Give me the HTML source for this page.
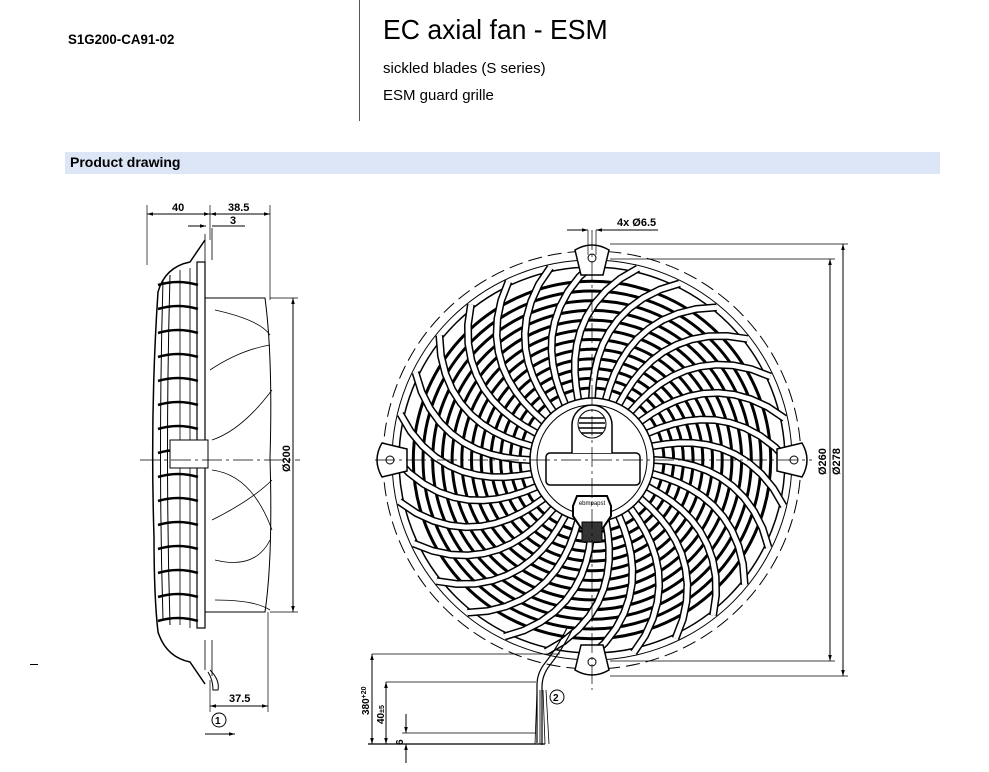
<!DOCTYPE html>
<html><head><meta charset="utf-8"><style>
body{margin:0;background:#fff;width:989px;height:772px;overflow:hidden;font-family:"Liberation Sans",Arial,sans-serif;position:relative}
.a{position:absolute;white-space:nowrap}
</style></head><body>
<div class="a" style="left:68px;top:31px;font-size:14px;font-weight:bold;transform:scaleX(0.95);transform-origin:0 0">S1G200-CA91-02</div>
<div class="a" style="left:359px;top:0;width:1px;height:121px;background:#555"></div>
<div class="a" style="left:383px;top:14px;font-size:28px;transform:scaleX(0.95);transform-origin:0 0">EC axial fan - ESM</div>
<div class="a" style="left:383px;top:60px;font-size:15px">sickled blades (S series)</div>
<div class="a" style="left:383px;top:87px;font-size:15px">ESM guard grille</div>
<div class="a" style="left:65px;top:152px;width:875px;height:22px;background:#dce6f6"></div>
<div class="a" style="left:70px;top:154px;font-size:14px;font-weight:bold">Product drawing</div>
<div class="a" style="left:30px;top:664px;width:8px;height:1px;background:#000"></div>
<svg class="a" style="left:0;top:0" width="989" height="772" id="s">
<defs><marker id="ar" viewBox="0 0 10 10" refX="10" refY="5" markerWidth="8" markerHeight="6" orient="auto-start-reverse"><path d="M0,2L10,5L0,8z" fill="#000"/></marker></defs>
<g stroke="#000" fill="none" stroke-width="1">
<circle cx="592" cy="460" r="209" stroke-dasharray="14,6"/>
<circle cx="592" cy="460" r="200"/>
<g id="rings"></g>
<g id="spokes"></g>
<circle cx="592" cy="460" r="62" fill="#fff" stroke-width="1.5"/>
<circle cx="592" cy="460" r="55"/>
<rect x="546" y="453" width="94" height="32" rx="4" fill="#fff" stroke-width="1.5"/>
<path d="M572,453 v-28 a20,20 0 0 1 40,0 v28" fill="#fff" stroke-width="1.5"/>
<circle cx="592" cy="424" r="14" fill="#fff"/>
<g stroke-width="1.5"><line x1="580" y1="418" x2="604" y2="418"/><line x1="579" y1="423" x2="605" y2="423"/><line x1="579" y1="428" x2="605" y2="428"/><line x1="581" y1="433" x2="603" y2="433"/></g>
<path d="M577,496 h30 l4,10 v10 l-8,12 h-22 l-8,-12 v-10z" fill="#fff" stroke-width="2"/>
<rect x="582" y="522" width="20" height="20" fill="#333"/>
<text x="592" y="505" font-size="6" text-anchor="middle" fill="#000" stroke="none">ebmpapst</text>
<path d="M575,250 q17,-10 34,0 l-6,25 h-22z" fill="#fff" stroke-width="1.5"/><circle cx="592" cy="258" r="4"/>
<path d="M575,670 q17,10 34,0 l-6,-25 h-22z" fill="#fff" stroke-width="1.5"/><circle cx="592" cy="662" r="4"/>
<path d="M382,443 q-10,17 0,34 l25,-6 v-22z" fill="#fff" stroke-width="1.5"/><circle cx="390" cy="460" r="4"/>
<path d="M802,443 q10,17 0,34 l-25,-6 v-22z" fill="#fff" stroke-width="1.5"/><circle cx="794" cy="460" r="4"/>
<line x1="375" y1="460" x2="812" y2="460" stroke-dasharray="20,4,3,4" stroke-width="0.7"/>
<line x1="592" y1="230" x2="592" y2="690" stroke-dasharray="20,4,3,4" stroke-width="0.7"/>
<line x1="588" y1="230" x2="588" y2="255" stroke-width="0.7"/><line x1="596" y1="230" x2="596" y2="255" stroke-width="0.7"/>
<line x1="567" y1="230" x2="588" y2="230" marker-end="url(#ar)"/><line x1="617" y1="230" x2="596" y2="230" marker-end="url(#ar)"/>
<line x1="596" y1="230" x2="658" y2="230"/>
<line x1="610" y1="244" x2="848" y2="244" stroke-width="0.7"/>
<line x1="610" y1="259" x2="835" y2="259" stroke-width="0.7"/>
<line x1="610" y1="661" x2="835" y2="661" stroke-width="0.7"/>
<line x1="610" y1="676" x2="848" y2="676" stroke-width="0.7"/>
<line x1="843" y1="244" x2="843" y2="676" marker-start="url(#ar)" marker-end="url(#ar)"/>
<line x1="830" y1="259" x2="830" y2="661" marker-start="url(#ar)" marker-end="url(#ar)"/>
<path d="M567,628 q-10,20 -22,35 q-8,10 -8,22 v58" stroke-width="1.2"/>
<path d="M572,630 q-10,20 -22,35 q-8,10 -8,22 v58" stroke-width="1.2"/>
<path d="M537,690 l-2,54 M540,690 l0,54 M543,690 l2,54 M546,690 l3,54" stroke-width="0.8"/>
<line x1="372" y1="654" x2="560" y2="654" stroke-width="0.7"/>
<line x1="386" y1="682" x2="536" y2="682" stroke-width="0.7"/>
<line x1="402" y1="733" x2="536" y2="733" stroke-width="0.7"/>
<line x1="368" y1="744" x2="545" y2="744" stroke-width="1.2"/>
<line x1="372" y1="654" x2="372" y2="744" marker-start="url(#ar)" marker-end="url(#ar)"/>
<line x1="386" y1="682" x2="386" y2="744" marker-start="url(#ar)" marker-end="url(#ar)"/>
<line x1="406" y1="714" x2="406" y2="733" marker-end="url(#ar)"/>
<line x1="406" y1="763" x2="406" y2="744" marker-end="url(#ar)"/>
<circle cx="557" cy="697" r="7"/>
<path d="M205,240 l-15,22 q-25,5 -32,30 q-8,120 -4,245 q0,60 4,95 q8,25 32,30 l15,22" stroke-width="1.5"/>
<path d="M163,280 q-5,175 0,340" stroke-width="1"/>
<path d="M170,275 q-5,180 0,350" />
<path d="M180,270 v355 M190,268 v360" stroke-width="0.8"/>
<rect x="197" y="262" width="8" height="366" fill="#fff" stroke-width="1.2"/>
<g id="side"></g>
<path d="M205,298 h60 q8,60 5,160 q3,100 -5,154 h-60" stroke-width="1"/>
<path d="M215,310 q45,10 55,25 M210,370 q30,-20 60,-25 M212,440 q30,-10 60,-50 M212,470 q40,5 60,60 M212,520 q40,-20 60,-40 M215,560 q40,10 55,-20 M215,600 q40,0 55,10" stroke-width="0.8"/>
<path d="M205,234 v30 M212,228 v32 M205,640 v30 M212,640 v36" stroke-width="0.8"/>
<path d="M210,670 q10,10 8,20 l-5,0 q0,-10 -5,-18" />
<rect x="170" y="440" width="38" height="28" fill="#fff"/>
<line x1="140" y1="460" x2="300" y2="460" stroke-dasharray="20,4,3,4" stroke-width="0.7"/>
<line x1="147" y1="205" x2="147" y2="265" stroke-width="0.7"/>
<line x1="270" y1="205" x2="270" y2="300" stroke-width="0.7"/>
<line x1="147" y1="214" x2="210" y2="214" marker-start="url(#ar)" marker-end="url(#ar)"/>
<line x1="210" y1="214" x2="270" y2="214" marker-start="url(#ar)" marker-end="url(#ar)"/>
<line x1="188" y1="226" x2="206" y2="226" marker-end="url(#ar)"/><line x1="245" y1="226" x2="212" y2="226"/>
<line x1="210" y1="205" x2="210" y2="240" stroke-width="0.7"/>
<line x1="270" y1="298" x2="298" y2="298" stroke-width="0.7"/><line x1="270" y1="612" x2="298" y2="612" stroke-width="0.7"/>
<line x1="293" y1="298" x2="293" y2="612" marker-start="url(#ar)" marker-end="url(#ar)"/>
<line x1="210" y1="680" x2="210" y2="712" stroke-width="0.7"/><line x1="268" y1="612" x2="268" y2="712" stroke-width="0.7"/>
<line x1="210" y1="706" x2="268" y2="706" marker-start="url(#ar)" marker-end="url(#ar)"/>
<line x1="205" y1="734" x2="235" y2="734" marker-end="url(#ar)"/>
<circle cx="219" cy="720" r="7"/>
</g>
<g font-family="Liberation Sans,Arial" font-weight="bold" font-size="11" fill="#000">
<text x="172" y="211">40</text><text x="228" y="211">38.5</text><text x="230" y="224">3</text>
<text x="229" y="702">37.5</text><text x="215" y="724" font-size="10">1</text>
<text x="553" y="701" font-size="10">2</text>
<text x="617" y="226">4x Ø6.5</text>
<text transform="translate(826,475) rotate(-90)">Ø260</text>
<text transform="translate(840,475) rotate(-90)">Ø278</text>
<text transform="translate(290,472) rotate(-90)">Ø200</text>
<text transform="translate(369,715) rotate(-90)" font-size="10">380<tspan font-size="7" dy="-3">+20</tspan></text>
<text transform="translate(384,724) rotate(-90)" font-size="10">40<tspan font-size="7">±5</tspan></text>
<text transform="translate(403,745) rotate(-90)" font-size="10">6</text>
</g>
</svg>
<script>
var ns="http://www.w3.org/2000/svg",cx=592,cy=460;
function el(p,t,a){var e=document.createElementNS(ns,t);for(var k in a)e.setAttribute(k,a[k]);p.appendChild(e);return e}
var R=document.getElementById("rings");
for(var r=72;r<=188;r+=9.7)el(R,"circle",{cx:cx,cy:cy,r:r,"stroke-width":3});
el(R,"circle",{cx:cx,cy:cy,r:193,"stroke-width":1.5});
var S=document.getElementById("spokes");
for(var i=0;i<28;i++){var a0=i*2*Math.PI/28,d="";
 for(var t=0;t<=10;t++){var rr=62+t*13.5,a=a0+0.38*(t/10)*(t/10)+0.08*t/10;d+=(t?"L":"M")+(cx+rr*Math.cos(a)).toFixed(1)+","+(cy+rr*Math.sin(a)).toFixed(1)}
 el(S,"path",{d:d,"stroke-width":8,stroke:"#000"});el(S,"path",{d:d,"stroke-width":5,stroke:"#fff"});}
var G=document.getElementById("side");
for(var y=285;y<630;y+=24){el(G,"path",{d:"M158,"+y+" q20,-6 40,0","stroke-width":2.5});}
</script>
</body></html>
